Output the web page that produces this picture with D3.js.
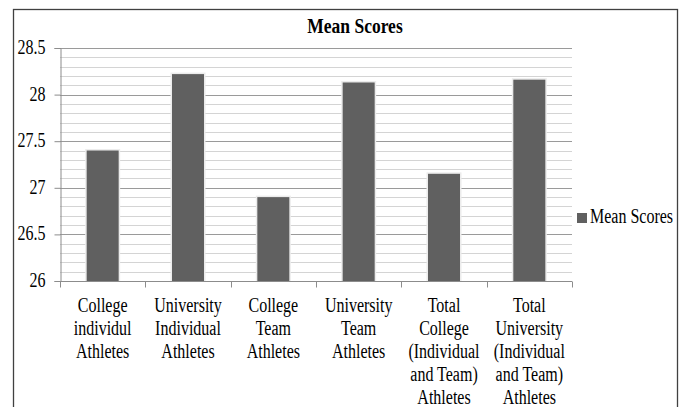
<!DOCTYPE html>
<html><head><meta charset="utf-8">
<script src="https://cdn.jsdelivr.net/npm/d3@7"></script>
<style>body{margin:0;background:#fff}svg{display:block}</style>
</head><body>
<script>
const categories = [
  ["College","individul","Athletes"],
  ["University","Individual","Athletes"],
  ["College","Team","Athletes"],
  ["University","Team","Athletes"],
  ["Total","College","(Individual","and Team)","Athletes"],
  ["Total","University","(Individual","and Team)","Athletes"]
];
const meanScores = [27.4, 28.22, 26.9, 28.13, 27.15, 28.16];
const yTicks = [26, 26.5, 27, 27.5, 28, 28.5];
const seriesName = "Mean Scores";
const title = "Mean Scores";

const FONT = "'Liberation Serif', 'Times New Roman', serif";
const W = 683, H = 407, SY = 1.25;
const svg = d3.select("body").append("svg").attr("width", W).attr("height", H);
svg.append("rect").attr("width", W).attr("height", H).attr("fill", "#fff");
svg.append("rect").attr("x", 13.5).attr("y", 9.5).attr("width", 664).attr("height", 430)
  .attr("fill", "none").attr("stroke", "#404040").attr("stroke-width", 1.3);

const x = d3.scaleBand().domain(d3.range(categories.length)).range([60, 572]).padding(0);
const y = d3.scaleLinear().domain([26, 28.5]).range([281, 48]);

function txt(g, tx, ty, s, size, anchor, weight) {
  return g.append("text")
    .attr("transform", `translate(${tx},${ty}) scale(1,${SY})`)
    .attr("text-anchor", anchor || "start")
    .attr("font-family", FONT)
    .style("font-family", FONT).style("font-size", size + "px")
    .style("font-weight", weight || "normal").attr("fill", "#000")
    .text(s);
}

// minor gridlines
const minor = d3.range(261, 285).map(v => v / 10);
svg.append("g").selectAll("line").data(minor.filter(v => Math.abs(v * 2 - Math.round(v * 2)) > 1e-6)).join("line")
  .attr("x1", 60).attr("x2", 572).attr("y1", d => Math.round(y(d)) + 0.5).attr("y2", d => Math.round(y(d)) + 0.5)
  .attr("stroke", "#d4d4d4").attr("stroke-width", 1);
// major gridlines
svg.append("g").selectAll("line").data(yTicks.slice(1)).join("line")
  .attr("x1", 60).attr("x2", 572).attr("y1", d => Math.round(y(d)) + 0.5).attr("y2", d => Math.round(y(d)) + 0.5)
  .attr("stroke", "#9a9a9a").attr("stroke-width", 1);

// y axis
const yAxis = svg.append("g").attr("transform", "translate(60.5,0)")
  .call(d3.axisLeft(y).tickValues(yTicks).tickSize(6).tickFormat(d => String(d)));
yAxis.select(".domain").attr("stroke", "#8c8c8c");
yAxis.selectAll(".tick line").attr("stroke", "#8c8c8c");
yAxis.selectAll(".tick text").remove();
yAxis.selectAll(".tick").each(function(d) {
  txt(d3.select(this), -15, 5.5, String(d), 16, "end");
});

// bars
const bw = x.bandwidth() * 0.375;
const bars = svg.append("g");
bars.selectAll("rect.sh").data(meanScores).join("rect").attr("class", "sh")
  .attr("x", (d, i) => x(i) + x.bandwidth() / 2 - bw / 2 - 1.5)
  .attr("y", d => y(d) - 1.5)
  .attr("width", bw + 3).attr("height", d => y(26) - y(d) + 1.5)
  .attr("fill", "#ececec");
bars.selectAll("rect.b").data(meanScores).join("rect").attr("class", "b")
  .attr("x", (d, i) => x(i) + x.bandwidth() / 2 - bw / 2)
  .attr("y", d => y(d))
  .attr("width", bw).attr("height", d => y(26) - y(d))
  .attr("fill", "#606060");

// x axis
const xAxisG = svg.append("g").attr("transform", "translate(0,281.5)");
xAxisG.append("line").attr("x1", 60).attr("x2", 572).attr("stroke", "#8c8c8c");
xAxisG.selectAll("line.t").data(d3.range(categories.length + 1)).join("line").attr("class", "t")
  .attr("x1", d => Math.round(d < categories.length ? x(d) : x.range()[1]) + 0.5)
  .attr("x2", d => Math.round(d < categories.length ? x(d) : x.range()[1]) + 0.5)
  .attr("y1", 0).attr("y2", 6).attr("stroke", "#8c8c8c");

const labG = svg.append("g");
categories.forEach((lines, i) => {
  lines.forEach((ln, j) => {
    txt(labG, x(i) + x.bandwidth() / 2, 312 + j * 23, ln, 16, "middle");
  });
});

// title
txt(svg, 355, 33, title, 17.5, "middle", "bold");

// legend
svg.append("rect").attr("x", 577).attr("y", 213).attr("width", 10).attr("height", 10).attr("fill", "#606060");
txt(svg, 590, 223, seriesName, 16, "start");
</script>
</body></html>
